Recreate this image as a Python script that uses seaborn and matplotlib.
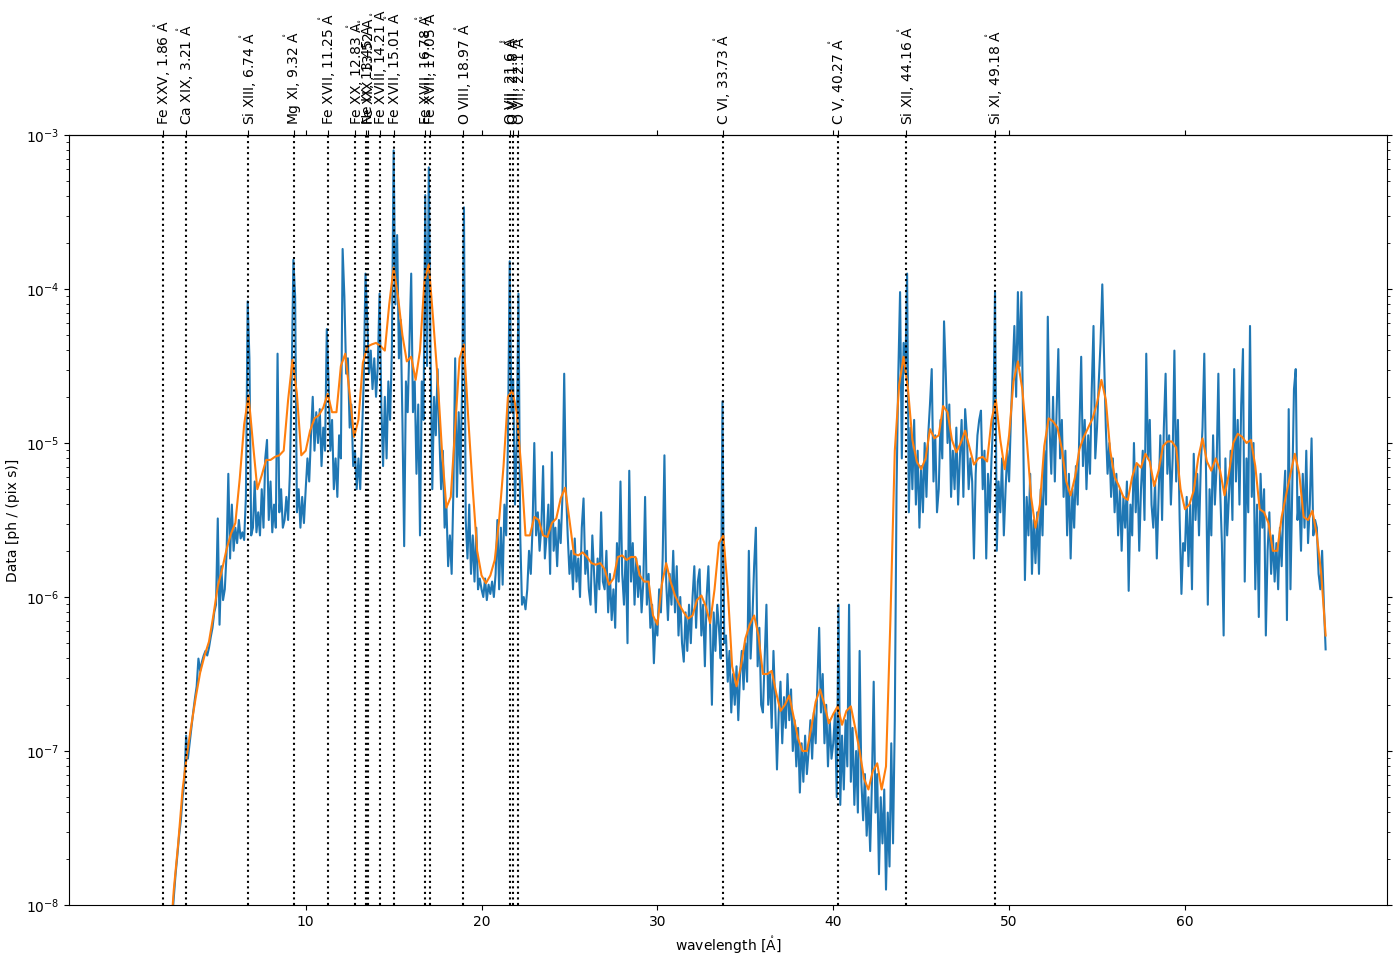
import numpy as np
import pandas as pd
import matplotlib
matplotlib.use("Agg")
import matplotlib.pyplot as plt
import seaborn as sns

# ---- emission line identifications ----
line_names = ["Fe XXV", "Ca XIX", "Si XIII", "Mg XI", "Fe XVII", "Fe XX", "Ne IX", "Fe XIX",
              "Fe XVIII", "Fe XVII", "Fe XVII", "Fe XVII", "O VIII", "O VII", "O VII", "O VII",
              "C VI", "C V", "Si XII", "Si XI"]
line_wavelengths = [1.86, 3.21, 6.74, 9.32, 11.25, 12.83, 13.45, 13.52,
                    14.21, 15.01, 16.78, 17.05, 18.97, 21.6, 21.8, 22.1,
                    33.73, 40.27, 44.16, 49.18]

x_ticks = [10, 20, 30, 40, 50, 60]

# ---- observed spectrum (log10 of data), grid starts at 2.0 A, step 0.1 A ----
data_start, data_step = 2.0, 0.1
data_log10 = [
    -9.50, -9.20, -8.90, -8.60, -8.10, -7.95, -7.80, -7.68, -7.55, -7.45,   # 2
    -7.30, -7.20, -6.90, -7.05, -6.95, -6.85, -6.75, -6.66, -6.58, -6.40,   # 3
    -6.48, -6.42, -6.38, -6.35, -6.38, -6.33, -6.26, -6.20, -6.10, -6.05,   # 4
    -5.49, -6.18, -5.80, -6.02, -5.95, -5.72, -5.20, -5.75, -5.40, -5.70,   # 5
    -5.55, -5.65, -5.50, -5.62, -5.58, -5.63, -5.35, -4.08, -4.45, -5.60,   # 6
    -5.55, -5.25, -5.58, -5.45, -5.60, -5.30, -5.55, -5.10, -4.98, -5.50,   # 7
    -5.25, -5.58, -5.40, -5.55, -4.42, -5.45, -5.30, -5.55, -5.50, -5.35,   # 8
    -5.50, -5.20, -4.60, -3.81, -4.05, -5.45, -5.30, -5.55, -5.35, -5.52,   # 9
    -5.30, -5.10, -5.25, -4.95, -4.70, -5.05, -4.80, -5.00, -4.78, -5.15,   # 10
    -4.90, -5.05, -4.26, -4.60, -5.05, -4.85, -5.30, -5.10, -5.35, -4.95,   # 11
    -5.10, -3.74, -4.05, -4.55, -4.45, -4.90, -4.75, -5.15, -5.05, -5.30,   # 12
    -5.10, -5.30, -4.95, -4.60, -3.90, -4.20, -4.55, -4.40, -4.65, -4.45,   # 13
    -4.70, -4.50, -4.03, -4.75, -5.15, -4.70, -5.10, -4.60, -4.85, -4.40,   # 14
    -3.10, -4.10, -3.65, -4.45, -4.20, -4.85, -5.67, -4.60, -4.80, -4.35,   # 15
    -3.90, -4.80, -4.60, -5.20, -4.75, -5.60, -4.60, -4.85, -3.39, -4.50,   # 16
    -3.21, -4.40, -5.30, -4.70, -4.95, -4.52, -4.95, -5.30, -5.05, -5.55,   # 17
    -5.40, -5.80, -5.60, -5.85, -5.30, -4.45, -5.35, -4.80, -5.20, -4.60,   # 18
    -3.47, -5.50, -5.75, -5.40, -5.85, -5.60, -5.90, -5.55, -5.95, -5.88,   # 19
    -5.95, -6.00, -5.88, -6.02, -5.92, -5.98, -5.90, -6.00, -5.85, -5.50,   # 20
    -5.95, -5.55, -5.92, -5.40, -5.60, -5.00, -3.82, -4.80, -4.59, -5.40,   # 21
    -5.00, -4.03, -5.60, -6.05, -6.00, -6.08, -5.95, -5.70, -5.85, -5.55,   # 22
    -5.00, -5.60, -5.45, -5.70, -5.55, -5.15, -5.75, -5.60, -5.40, -5.85,   # 23
    -5.06, -5.70, -5.55, -5.80, -5.50, -5.65, -5.35, -4.55, -5.30, -5.60,   # 24
    -5.85, -5.70, -5.95, -5.62, -5.90, -5.75, -6.00, -5.55, -5.36, -5.85,   # 25
    -5.70, -5.95, -6.05, -5.60, -5.85, -6.10, -5.75, -5.95, -5.45, -5.90,   # 26
    -5.95, -5.70, -6.10, -5.85, -6.15, -5.95, -6.20, -5.65, -5.90, -5.25,   # 27
    -5.85, -6.05, -5.70, -6.30, -5.18, -5.90, -5.65, -6.05, -5.75, -6.00,   # 28
    -5.80, -6.10, -5.90, -5.35, -6.05, -5.85, -6.20, -6.05, -6.43, -6.15,   # 29
    -6.25, -5.95, -6.10, -5.75, -5.08, -5.90, -6.15, -5.85, -6.05, -5.70,   # 30
    -6.10, -5.80, -6.25, -6.00, -6.30, -6.42, -6.10, -6.35, -6.05, -6.30,   # 31
    -6.00, -5.80, -6.20, -5.90, -5.82, -6.25, -6.05, -6.45, -6.00, -5.80,   # 32
    -6.20, -6.70, -6.10, -6.35, -6.05, -6.20, -6.40, -4.73, -6.30, -6.25,   # 33
    -6.55, -6.35, -6.75, -6.50, -6.70, -6.45, -6.80, -6.50, -6.35, -6.60,   # 34
    -6.30, -6.55, -5.70, -6.40, -6.15, -5.80, -5.55, -6.45, -6.20, -6.70,   # 35
    -6.75, -6.40, -6.05, -6.70, -6.50, -6.85, -6.35, -6.70, -7.12, -6.75,   # 36
    -6.55, -6.95, -6.65, -6.85, -6.50, -6.80, -6.60, -7.00, -6.80, -7.10,   # 37
    -6.85, -7.27, -6.95, -7.20, -6.90, -7.15, -7.00, -6.80, -7.05, -6.75,   # 38
    -6.95, -6.55, -6.20, -6.75, -6.50, -6.95, -6.70, -7.10, -6.80, -7.05,   # 39
    -6.95, -6.75, -7.30, -6.05, -7.35, -6.90, -7.25, -6.80, -7.10, -6.05,   # 40
    -7.20, -6.85, -7.35, -7.00, -7.40, -6.35, -7.20, -7.45, -7.15, -7.55,   # 41
    -7.30, -7.65, -7.20, -6.55, -7.40, -7.15, -7.80, -7.30, -7.60, -7.25,   # 42
    -7.90, -7.40, -7.75, -6.95, -7.60, -6.80, -5.30, -4.55, -4.02, -5.10,   # 43
    -4.35, -4.55, -3.90, -5.45, -4.90, -5.30, -4.85, -5.40, -5.05, -5.55,   # 44
    -5.15, -5.45, -5.00, -5.35, -4.95, -4.75, -4.52, -5.25, -4.95, -5.45,   # 45
    -5.30, -4.85, -5.10, -4.21, -4.55, -5.00, -4.75, -5.35, -5.05, -5.30,   # 46
    -4.90, -5.40, -5.10, -4.85, -5.35, -4.78, -4.95, -5.30, -5.10, -5.25,   # 47
    -5.75, -5.20, -4.95, -4.85, -4.79, -5.30, -5.05, -5.75, -5.20, -5.45,   # 48
    -5.10, -4.85, -4.02, -5.70, -5.25, -5.45, -5.10, -5.60, -5.30, -5.05,   # 49
    -5.25, -4.85, -4.55, -4.24, -4.70, -4.02, -4.50, -4.02, -4.90, -5.89,   # 50
    -5.35, -5.60, -5.20, -5.85, -5.50, -5.78, -5.45, -5.85, -5.30, -5.60,   # 51
    -5.05, -5.40, -4.18, -4.90, -5.20, -4.70, -5.25, -4.80, -4.39, -5.10,   # 52
    -4.85, -5.35, -5.05, -5.60, -5.20, -5.75, -5.30, -5.55, -5.15, -5.40,   # 53
    -4.90, -4.44, -5.15, -4.85, -5.30, -4.95, -5.20, -4.65, -4.24, -5.10,   # 54
    -4.90, -4.60, -4.35, -3.97, -4.45, -4.90, -5.20, -5.00, -5.35, -5.10,   # 55
    -5.45, -5.20, -5.60, -5.30, -5.70, -5.35, -5.55, -5.25, -5.96, -5.40,   # 56
    -5.60, -5.00, -5.45, -5.15, -5.70, -5.30, -5.05, -5.50, -4.42, -5.10,   # 57
    -4.85, -5.40, -5.55, -5.25, -5.75, -5.35, -4.95, -5.50, -4.90, -4.55,   # 58
    -5.20, -4.95, -5.40, -5.10, -4.40, -5.25, -4.85, -5.50, -5.98, -5.65,   # 59
    -5.70, -5.35, -5.80, -5.40, -5.95, -5.07, -5.50, -5.20, -5.60, -5.15,   # 60
    -4.90, -4.42, -5.20, -6.05, -5.30, -5.60, -4.95, -5.40, -5.15, -4.55,   # 61
    -5.30, -5.65, -6.25, -5.10, -5.60, -5.35, -5.05, -5.50, -4.52, -5.25,   # 62
    -4.85, -5.40, -4.75, -4.39, -5.90, -5.10, -5.45, -4.24, -5.35, -5.00,   # 63
    -5.95, -5.40, -6.13, -5.20, -5.55, -5.30, -6.25, -5.70, -5.45, -5.85,   # 64
    -5.60, -5.90, -5.65, -5.95, -5.55, -5.80, -5.40, -5.18, -6.15, -4.78,   # 65
    -5.95, -5.30, -4.65, -4.52, -5.50, -5.35, -5.70, -5.20, -5.55, -5.05,   # 66
    -5.65, -5.40, -4.97, -5.60, -5.50, -5.55, -5.85, -5.95, -5.70, -6.05,   # 67
    -6.34,                                                                  # 68
]

# ---- smoothed spectrum (log10), grid starts at 2.25 A, step 0.25 A ----
smooth_start, smooth_step = 2.25, 0.25
smooth_log10 = [
    -8.30, -7.90, -7.60, -7.25,  -7.02, -6.83, -6.65, -6.49,
    -6.38, -6.29, -6.12, -5.93,  -5.82, -5.69, -5.59, -5.52,
    -5.23, -4.88, -4.69, -5.00,  -5.30, -5.21, -5.11, -5.11,
    -5.09, -5.08, -5.05, -4.72,  -4.46, -4.68, -5.08, -5.05,
    -4.92, -4.84, -4.82, -4.77,  -4.68, -4.80, -4.80, -4.50,
    -4.42, -4.68, -4.96, -4.85,  -4.48, -4.375, -4.36, -4.35,
    -4.37, -4.40, -4.10, -3.86,  -4.05, -4.30, -4.47, -4.44,
    -4.59, -4.40, -3.95, -3.84,  -4.20, -4.58, -5.05, -5.42,
    -5.35, -4.90, -4.45, -4.36,  -4.85, -5.30, -5.70, -5.86,
    -5.91, -5.86, -5.76, -5.50,  -5.15, -4.70, -4.66, -4.80,
    -5.15, -5.60, -5.60, -5.48,  -5.50, -5.60, -5.61, -5.52,
    -5.49, -5.36, -5.29, -5.50,  -5.72, -5.73, -5.71, -5.74,
    -5.78, -5.79, -5.78, -5.82,  -5.92, -5.88, -5.74, -5.73,
    -5.76, -5.74, -5.74, -5.86,  -5.90, -5.90, -6.12, -6.18,
    -5.92, -5.78, -5.90, -5.99,  -6.05, -6.10, -6.14, -6.12,
    -6.02, -5.99, -6.06, -6.17,  -5.95, -5.65, -5.60, -5.95,
    -6.45, -6.58, -6.45, -6.27,  -6.18, -6.12, -6.25, -6.50,
    -6.50, -6.48, -6.62, -6.74,  -6.70, -6.64, -6.78, -6.92,
    -7.00, -7.00, -6.85, -6.68,  -6.60, -6.70, -6.82, -6.76,
    -6.71, -6.83, -6.74, -6.71,  -6.85, -7.00, -7.18, -7.25,
    -7.13, -7.08, -7.25, -7.10,  -6.15, -5.05, -4.62, -4.44,
    -4.65, -4.98, -5.12, -5.17,  -5.10, -4.91, -4.97, -4.95,
    -4.76, -4.80, -4.98, -5.06,  -5.00, -4.92, -5.03, -5.14,
    -5.10, -5.09, -5.12, -4.85,  -4.72, -4.98, -5.17, -4.95,
    -4.60, -4.47, -4.65, -4.97,  -5.35, -5.55, -5.40, -5.02,
    -4.84, -4.86, -4.90, -5.04,  -5.25, -5.34, -5.22, -5.04,
    -4.96, -4.90, -4.84, -4.74,  -4.59, -4.72, -5.05, -5.22,
    -5.28, -5.35, -5.37, -5.22,  -5.13, -5.16, -5.07, -5.12,
    -5.28, -5.18, -5.02, -4.99,  -4.99, -5.03, -5.30, -5.43,
    -5.40, -5.31, -5.10, -4.97,  -5.12, -5.18, -5.10, -5.18,
    -5.34, -5.20, -5.00, -4.94,  -4.96, -5.00, -4.98, -5.15,
    -5.43, -5.45, -5.52, -5.70,  -5.70, -5.48, -5.34, -5.20,
    -5.07, -5.20, -5.48, -5.50,  -5.44, -5.60, -5.85, -6.25,
]

df_data = pd.DataFrame({
    "wavelength": data_start + data_step * np.arange(len(data_log10)),
    "flux": 10.0 ** np.asarray(data_log10),
})
df_smooth = pd.DataFrame({
    "wavelength": smooth_start + smooth_step * np.arange(len(smooth_log10)),
    "flux": 10.0 ** np.asarray(smooth_log10),
})

AA = r"$\mathrm{\mathring{A}}$"
line_labels = [f"{n}, {w:g} " + AA for n, w in zip(line_names, line_wavelengths)]

fig = plt.figure(figsize=(13.96, 9.6), dpi=100)
ax = fig.add_axes([69 / 1396, 55 / 960, (1387 - 69) / 1396, (905 - 135) / 960])

sns.lineplot(data=df_data, x="wavelength", y="flux", ax=ax, color="#1f77b4",
             lw=1.5, estimator=None, sort=False)
sns.lineplot(data=df_smooth, x="wavelength", y="flux", ax=ax, color="#ff7f0e",
             lw=1.5, estimator=None, sort=False)

for w in line_wavelengths:
    ax.axvline(w, color="black", ls=":", lw=1.5)

ax.set_yscale("log")
ax.set_ylim(1e-8, 1e-3)
ax.set_xlim(-3.46, 71.49)
ax.set_xticks(x_ticks)
ax.tick_params(which="both", top=True, right=True)

sec = ax.secondary_xaxis("top")
sec.set_xticks(line_wavelengths)
sec.set_xticklabels(line_labels, rotation=90)

ax.set_xlabel("wavelength [" + AA + "]")
ax.set_ylabel("Data [ph / (pix s)]")

fig.savefig("out.png", dpi=100)
